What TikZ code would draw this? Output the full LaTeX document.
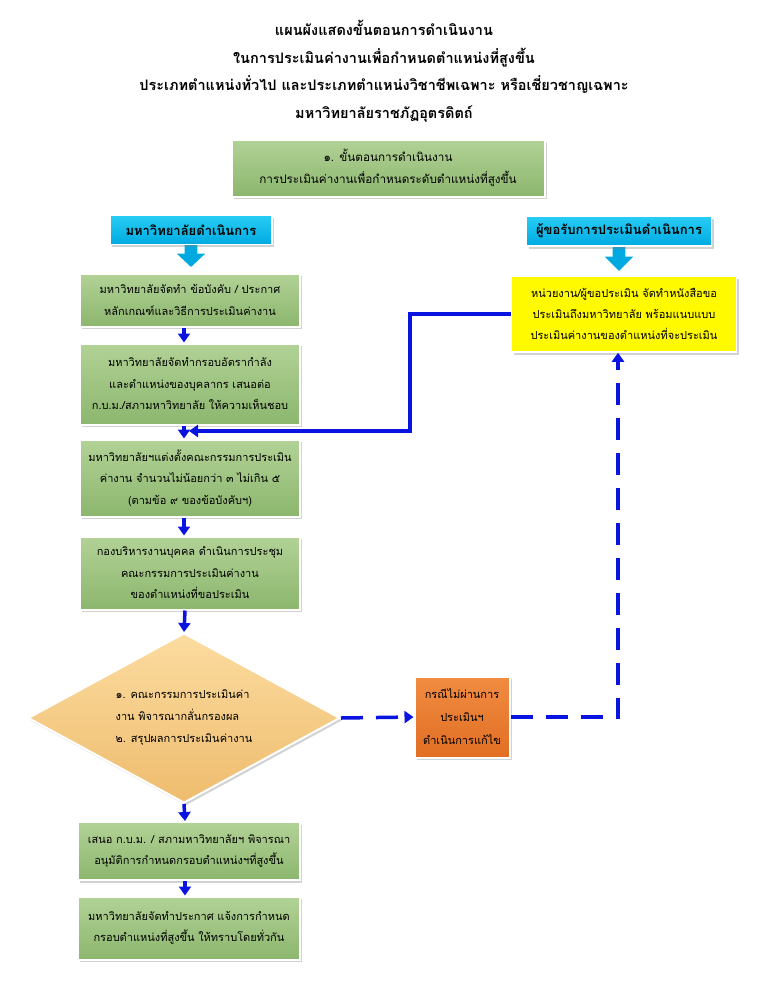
\documentclass[tikz,border=0pt]{standalone}
\usepackage{fontspec}
\newfontfamily\thai[Script=Thai]{Loma}
\usetikzlibrary{shapes.geometric,shadows,arrows.meta}
\definecolor{gtop}{RGB}{178,210,150}
\definecolor{gbot}{RGB}{140,182,110}
\definecolor{ctop}{RGB}{40,205,245}
\definecolor{cbot}{RGB}{0,170,225}
\definecolor{ylw}{RGB}{255,250,0}
\definecolor{otop}{RGB}{240,140,65}
\definecolor{obot}{RGB}{225,110,35}
\definecolor{dtop}{RGB}{252,220,160}
\definecolor{dbot}{RGB}{238,188,110}
\definecolor{lnblue}{RGB}{10,20,225}
\tikzset{
  shd/.style={drop shadow={opacity=0.35,shadow xshift=2pt,shadow yshift=-2.5pt}},
  greenbox/.style={shd,draw=white,line width=2pt,top color=gtop,bottom color=gbot,
    align=center,inner sep=2pt,font=\thai\fontsize{11}{21.5}\selectfont},
  cyanbox/.style={shd,draw=white,line width=1.5pt,top color=ctop,bottom color=cbot,
    align=center,inner sep=2pt,font=\thai\bfseries\fontsize{13}{15}\selectfont},
  ylwbox/.style={shd,draw=white,line width=1.5pt,fill=ylw,align=center,inner sep=2pt,
    font=\thai\fontsize{11}{21}\selectfont},
  orgbox/.style={shd,draw=white,line width=2pt,top color=otop,bottom color=obot,
    align=center,inner sep=2pt,font=\thai\fontsize{11}{23}\selectfont},
  diabox/.style={shd,draw=white,line width=2pt,top color=dtop,bottom color=dbot,
    diamond,aspect=1.835,inner sep=0pt,align=left,font=\thai\fontsize{11}{22}\selectfont},
  conn/.style={draw=lnblue,line width=3.5pt,-{Triangle[length=9pt,width=12pt]}},
  dconn/.style={conn,dash pattern=on 22pt off 13pt},
  sline/.style={draw=lnblue,line width=3.2pt},
  harrow/.style={fill=cbot,draw=white,line width=1.2pt},
}
\begin{document}
\begin{tikzpicture}[x=1pt,y=-1pt]
\fill[white] (0,0) rectangle (768,994);
\useasboundingbox (0,0) rectangle (768,994);

% title
\node[font=\thai\bfseries\fontsize{14.5}{27.5}\selectfont,align=center] (title) at (384,71)
 {แผนผังแสดงขั้นตอนการดำเนินงาน\\ในการประเมินค่างานเพื่อกำหนดตำแหน่งที่สูงขึ้น\\ประเภทตำแหน่งทั่วไป และประเภทตำแหน่งวิชาชีพเฉพาะ หรือเชี่ยวชาญเฉพาะ\\มหาวิทยาลัยราชภัฏอุตรดิตถ์};

% top box
\node[greenbox,minimum width=313pt,minimum height=57pt,font=\thai\fontsize{11.7}{22}\selectfont] (top) at (388,168)
 {๑. ขั้นตอนการดำเนินงาน\\การประเมินค่างานเพื่อกำหนดระดับตำแหน่งที่สูงขึ้น};

% header arrows
\filldraw[harrow] (184,243) -- (198,243) -- (198,253) -- (207,253) -- (191,268) -- (175,253) -- (184,253) -- cycle;
\filldraw[harrow] (612,244) -- (626,244) -- (626,256) -- (635,256) -- (619,272) -- (603,256) -- (612,256) -- cycle;

% headers
\node[cyanbox,minimum width=162pt,minimum height=29pt] (lh) at (191,230) {มหาวิทยาลัยดำเนินการ};
\node[cyanbox,minimum width=185pt,minimum height=30pt] (rh) at (619,231) {ผู้ขอรับการประเมินดำเนินการ};

% left column
\node[greenbox,minimum width=220pt,minimum height=53pt] (b1) at (190,300)
 {มหาวิทยาลัยจัดทำ ข้อบังคับ / ประกาศ\\หลักเกณฑ์และวิธีการประเมินค่างาน};
\node[greenbox,minimum width=220pt,minimum height=81pt] (b2) at (190,384)
 {มหาวิทยาลัยจัดทำกรอบอัตรากำลัง\\และตำแหน่งของบุคลากร เสนอต่อ\\ก.บ.ม./สภามหาวิทยาลัย ให้ความเห็นชอบ};
\node[greenbox,minimum width=220pt,minimum height=77pt] (b3) at (190,478)
 {มหาวิทยาลัยฯแต่งตั้งคณะกรรมการประเมิน\\ค่างาน จำนวนไม่น้อยกว่า ๓ ไม่เกิน ๕\\(ตามข้อ ๙ ของข้อบังคับฯ)};
\node[greenbox,minimum width=220pt,minimum height=73pt] (b4) at (190,573)
 {กองบริหารงานบุคคล ดำเนินการประชุม\\คณะกรรมการประเมินค่างาน\\ของตำแหน่งที่ขอประเมิน};
\node[diabox,minimum width=312pt,minimum height=170pt] (dia) at (184,718)
 {๑. คณะกรรมการประเมินค่า\\งาน พิจารณากลั่นกรองผล\\๒. สรุปผลการประเมินค่างาน};
\node[greenbox,minimum width=222pt,minimum height=58pt] (b5) at (189,851)
 {เสนอ ก.บ.ม. / สภามหาวิทยาลัยฯ พิจารณา\\อนุมัติการกำหนดกรอบตำแหน่งฯที่สูงขึ้น};
\node[greenbox,minimum width=222pt,minimum height=63pt] (b6) at (189,928)
 {มหาวิทยาลัยจัดทำประกาศ แจ้งการกำหนด\\กรอบตำแหน่งที่สูงขึ้น ให้ทราบโดยทั่วกัน};

% right column
\node[ylwbox,minimum width=225pt,minimum height=76pt] (yel) at (624,314)
 {หน่วยงาน/ผู้ขอประเมิน จัดทำหนังสือขอ\\ประเมินถึงมหาวิทยาลัย พร้อมแนบแบบ\\ประเมินค่างานของตำแหน่งที่จะประเมิน};
\node[orgbox,minimum width=95pt,minimum height=81pt] (org) at (462,717)
 {กรณีไม่ผ่านการ\\ประเมินฯ\\ดำเนินการแก้ไข};

% vertical flow arrows
\draw[conn] ([xshift=-6pt]b1.south) -- ([xshift=-6pt]b2.north);
\draw[conn] ([xshift=-6pt]b2.south) -- ([xshift=-6pt]b3.north);
\draw[conn] ([xshift=-6pt]b3.south) -- ([xshift=-6pt]b4.north);
\draw[conn] ([xshift=-5pt]b4.south) -- (dia.north);
\draw[conn] (dia.south) -- ([xshift=-4pt]b5.north);
\draw[conn] ([xshift=-4pt]b5.south) -- ([xshift=-4pt]b6.north);

% solid return from yellow box
\coordinate (jn) at (189,431);
\coordinate (jc) at (410,431);
\draw[sline,-{Triangle[length=9pt,width=12pt]}] (yel.west) -| (jc) -- (jn);

% dashed connectors
\draw[dconn] (dia.east) -- (org.west);
\coordinate (dc) at (618,717);
\draw[dconn] (org.east) -- (dc) -- (dc|-yel.south);
\end{tikzpicture}
\end{document}
